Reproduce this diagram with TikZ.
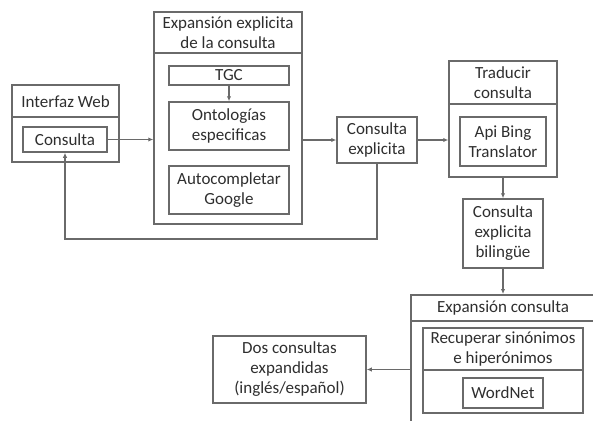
\documentclass[tikz,border=0pt]{standalone}
\usepackage{fontspec}
\setmainfont{Carlito}
\usetikzlibrary{arrows.meta}
\definecolor{linec}{HTML}{6A6A6A}
\definecolor{textc}{HTML}{2E2E2E}
\begin{document}
\begin{tikzpicture}[x=1pt,y=-1pt,
  box/.style={draw=linec,line width=1.5pt,rectangle,inner sep=0pt,align=center,text=textc,font=\fontsize{17}{20}\selectfont},
  lbl/.style={inner sep=0pt,align=center,text=textc,font=\fontsize{17}{20}\selectfont},
  conn/.style={draw=linec,line width=1.5pt},
  arr/.style={conn,-{Latex[length=5pt,width=4.5pt]}}]
\useasboundingbox (0,0) rectangle (593,420);
\clip (0,0) rectangle (593,420);
% Interfaz Web
\node[box,minimum width=107pt,minimum height=77pt] (web) at (65.5,123.5) {};
\node[lbl] (webt) at (65.5,102) {Interfaz Web};
\draw[conn] (12,117) -- (119,117);
\node[box,minimum width=84pt,minimum height=25pt] (cons) at (65,139.5) {Consulta};
% Expansion explicita
\node[box,minimum width=148pt,minimum height=212pt] (expe) at (228,118) {};
\node[lbl] (expet) at (228,33) {Expansión explicita\\de la consulta};
\draw[conn] (154,53) -- (302,53);
\node[box,minimum width=120pt,minimum height=19pt] (tgc) at (229,75.5) {TGC};
\node[box,minimum width=120pt,minimum height=48pt] (onto) at (229,126) {Ontologías\\especificas};
\node[box,minimum width=120pt,minimum height=48pt] (auto) at (229,190) {Autocompletar\\Google};
% Consulta explicita
\node[box,minimum width=80pt,minimum height=46pt] (cexp) at (377,140) {Consulta\\explicita};
% Traducir
\node[box,minimum width=108pt,minimum height=116pt] (trad) at (503,119) {};
\node[lbl] (tradt) at (503,83) {Traducir\\consulta};
\draw[conn] (449,104) -- (557,104);
\node[box,minimum width=86pt,minimum height=49pt] (bing) at (503,141.5) {Api Bing\\Translator};
% Bilingue
\node[box,minimum width=80pt,minimum height=69pt] (bil) at (503,233.5) {Consulta\\explicita\\bilingüe};
% Expansion consulta
\node[box,minimum width=186pt,minimum height=150pt,anchor=north west] (expc) at (410,294) {};
\node[lbl] (expct) at (503,308) {Expansión consulta};
\draw[conn] (410,321) -- (600,321);
\node[box,minimum width=160pt,minimum height=85pt] (recu) at (503,370.5) {};
\node[lbl] (recut) at (503,349) {Recuperar sinónimos\\e hiperónimos};
\draw[conn] (423,370) -- (583,370);
\node[box,minimum width=80pt,minimum height=30pt] (wn) at (503,393) {WordNet};
% Dos consultas
\node[box,minimum width=153pt,minimum height=67pt] (dos) at (289.5,369.5) {Dos consultas\\expandidas\\(inglés/español)};
% connectors
\draw[arr] (cons.east) -- (cons.east -| expe.west);
\draw[arr] (tgc.south) -- (onto.north);
\draw[arr] (cexp.west -| expe.east) -- (cexp.west);
\draw[arr] (cexp.east) -- (cexp.east -| trad.west);
\draw[arr] (trad.south) -- (bil.north);
\draw[arr] (bil.south) -- (bil.south |- expc.north);
\draw[arr] (dos.east -| expc.west) -- (dos.east);
\coordinate (fb) at (377,239);
\draw[arr] (cexp.south) -- (fb) -| (cons.south);
\end{tikzpicture}
\end{document}
